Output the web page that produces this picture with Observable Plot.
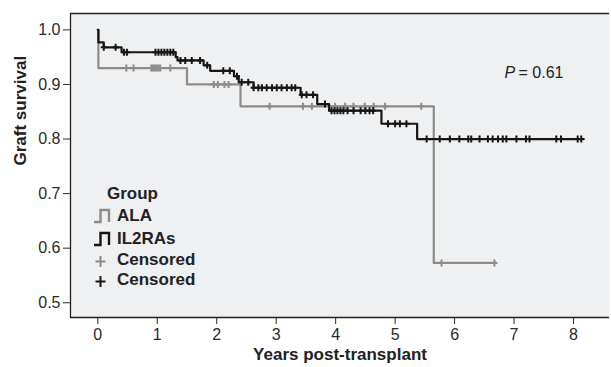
<!DOCTYPE html>
<html>
<head>
<meta charset="utf-8">
<script src="https://cdn.jsdelivr.net/npm/d3@7"></script>
<script src="https://cdn.jsdelivr.net/npm/@observablehq/plot@0.6"></script>
<style>
  html, body { margin: 0; padding: 0; background: #fff; }
  #wrap { position: relative; width: 611px; height: 367px; font-family: "Liberation Sans", Arial, sans-serif; }
  #legend { position: absolute; left: 0; top: 0; pointer-events: none; }
</style>
</head>
<body>
<div id="wrap"></div>
<script>
// ---- Data ----
// Kaplan–Meier step curves (time in years, survival probability)
const alaTime = [0, 0.01, 1.50, 2.40, 5.65, 6.68];
const alaSurv = [1.0, 0.930, 0.900, 0.860, 0.573, 0.573];

const il2Time = [0, 0.01, 0.10, 0.40, 1.31, 1.34, 1.78, 1.89, 2.29, 2.37, 2.62, 3.41, 3.69, 3.89, 4.77, 5.37, 8.17];
const il2Surv = [1.0, 0.977, 0.968, 0.959, 0.950, 0.944, 0.935, 0.925, 0.915, 0.904, 0.894, 0.881, 0.864, 0.852, 0.828, 0.800, 0.800];

// Censoring times
const alaCensor = [0.48, 0.60, 0.90, 0.93, 0.96, 0.99, 1.02, 1.05, 1.22, 1.95, 2.02, 2.13, 2.20, 2.89, 3.45, 3.60, 3.99, 4.16, 4.30, 4.49, 4.64, 4.83, 5.44, 5.78, 6.67];
const il2Censor = [0.10, 0.30, 0.44, 0.49, 0.97, 1.02, 1.07, 1.12, 1.17, 1.22, 1.27, 1.39, 1.47, 1.58, 1.72, 1.84, 2.11, 2.22, 2.34, 2.42, 2.53, 2.62, 2.70, 2.76, 2.84, 2.93, 3.01, 3.09, 3.18, 3.26, 3.32, 3.43, 3.51, 3.62, 3.82, 3.93, 3.98, 4.03, 4.08, 4.13, 4.20, 4.30, 4.42, 4.50, 4.57, 4.63, 4.88, 5.00, 5.08, 5.19, 5.53, 5.75, 5.92, 6.08, 6.23, 6.28, 6.42, 6.56, 6.64, 6.73, 6.81, 6.87, 7.04, 7.20, 7.26, 7.71, 7.79, 8.07, 8.13];

const groups = ["ALA", "IL2RAs"];
const colors = ["#8c8c8c", "#161616"];
const xTicks = [0, 1, 2, 3, 4, 5, 6, 7, 8];
const yTicks = [0.5, 0.6, 0.7, 0.8, 0.9, 1.0];
const xDomain = [-0.459, 8.605];
const yDomain = [0.473, 1.03];
const pLabel = "= 0.61";
const pPos = {x: 6.84, y: 0.922};

// ---- Build tables ----
const curve = (t, s, g) => t.map((d, i) => ({time: d, surv: s[i], group: g}));
const stepAt = (t, s, x) => { let v = s[0]; for (let i = 0; i < t.length; i++) if (t[i] <= x) v = s[i]; return v; };
const alaLine = curve(alaTime, alaSurv, "ALA");
const il2Line = curve(il2Time, il2Surv, "IL2RAs");
const alaCens = alaCensor.map(x => ({time: x, surv: stepAt(alaTime, alaSurv, x), group: "ALA"}));
const il2Cens = il2Censor.map(x => ({time: x, surv: stepAt(il2Time, il2Surv, x), group: "IL2RAs"}));

const plusSym = { draw(ctx) { ctx.moveTo(0, -3.5); ctx.lineTo(0, 3.5); ctx.moveTo(-3, 0); ctx.lineTo(3, 0); } };

const font = '"Liberation Sans", Arial, sans-serif';

const chart = Plot.plot({
  width: 611,
  height: 367,
  marginLeft: 70,
  marginTop: 13,
  marginBottom: 50,
  marginRight: 2,
  style: {fontFamily: font, fontSize: "16px", background: "#fff", color: "#2a2a2a"},
  x: {domain: xDomain, ticks: xTicks, tickSize: 7, tickPadding: 4, tickFormat: d3.format("d"), label: null},
  y: {domain: yDomain, ticks: yTicks, tickSize: 7, tickPadding: 3, tickFormat: d3.format(".1f"), label: null},
  color: {domain: groups, range: colors},
  marks: [
    Plot.frame({fill: "#eff0f2", stroke: "none"}),
    Plot.ruleX([xDomain[0]], {stroke: "#222", strokeWidth: 1.3}),
    Plot.ruleY([yDomain[0], yDomain[1]], {stroke: "#222", strokeWidth: 1.3}),
    Plot.line(alaLine, {x: "time", y: "surv", stroke: colors[0], strokeWidth: 2.2, curve: "step-after"}),
    Plot.line(il2Line, {x: "time", y: "surv", stroke: colors[1], strokeWidth: 2.2, curve: "step-after"}),
    Plot.dot(alaCens, {x: "time", y: "surv", symbol: plusSym, stroke: colors[0], strokeWidth: 2, r: 4}),
    Plot.dot(il2Cens, {x: "time", y: "surv", symbol: plusSym, stroke: colors[1], strokeWidth: 2, r: 4}),
    Plot.text([pPos], {x: "x", y: "y", text: () => "P", textAnchor: "start", fontStyle: "italic", fontSize: 16, fill: "#222"}),
    Plot.text([pPos], {x: "x", y: "y", text: () => pLabel, textAnchor: "start", dx: 14, fontSize: 16, fill: "#222"}),
    Plot.text(["Years post-transplant"], {frameAnchor: "bottom", dy: 42, fontWeight: "bold", fontSize: 17, fill: "#222"}),
    Plot.text(["Graft survival"], {frameAnchor: "left", dx: -50, rotate: -90, fontWeight: "bold", fontSize: 17, fill: "#222"})
  ]
});

const wrap = document.getElementById("wrap");
wrap.appendChild(chart);

// ---- Legend overlay ----
const ns = "http://www.w3.org/2000/svg";
const leg = document.createElementNS(ns, "svg");
leg.setAttribute("id", "legend");
leg.setAttribute("width", 611);
leg.setAttribute("height", 367);
const legendItems = [
  {label: "Group", kind: "title"},
  {label: groups[0], kind: "step", color: colors[0]},
  {label: groups[1], kind: "step", color: colors[1]},
  {label: "Censored", kind: "plus", color: colors[0]},
  {label: "Censored", kind: "plus", color: colors[1]}
];
const rowY = [193, 215, 238, 259, 279];
legendItems.forEach((it, i) => {
  const y = rowY[i];
  const t = document.createElementNS(ns, "text");
  t.setAttribute("x", it.kind === "title" ? 107 : 117);
  t.setAttribute("y", y);
  t.setAttribute("dy", "0.35em");
  t.setAttribute("font-family", font);
  t.setAttribute("font-size", 17);
  t.setAttribute("font-weight", "bold");
  t.setAttribute("fill", "#222");
  t.textContent = it.label;
  leg.appendChild(t);
  if (it.kind === "step") {
    const p = document.createElementNS(ns, "path");
    p.setAttribute("d", `M94,${y + 7} H100.5 V${y - 5} H109 V${y + 7}`);
    p.setAttribute("fill", "none");
    p.setAttribute("stroke", it.color);
    p.setAttribute("stroke-width", 2.4);
    leg.appendChild(p);
  } else if (it.kind === "plus") {
    const p = document.createElementNS(ns, "path");
    p.setAttribute("d", `M100.5,${y - 3} V${y + 8} M95.5,${y + 2.5} H105.5`);
    p.setAttribute("fill", "none");
    p.setAttribute("stroke", it.color);
    p.setAttribute("stroke-width", 2);
    leg.appendChild(p);
  }
});
wrap.appendChild(leg);
</script>
</body>
</html>
